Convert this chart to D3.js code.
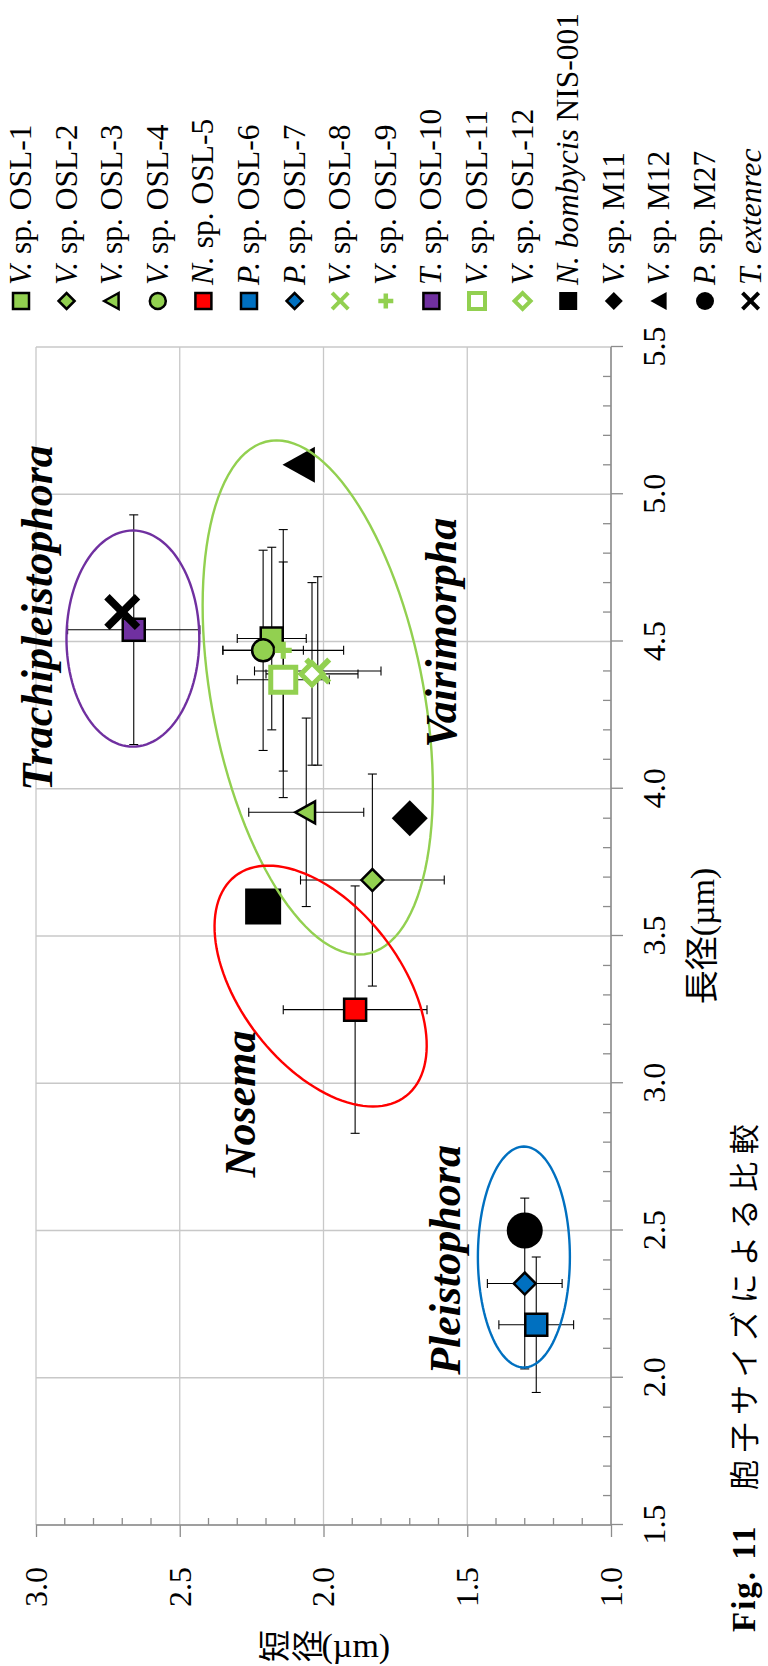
<!DOCTYPE html>
<html><head><meta charset="utf-8">
<script src="https://cdn.jsdelivr.net/npm/d3@7"></script>
<style>body{margin:0;background:#fff}svg{display:block}</style>
</head><body>
<script>
// ---------------- data ----------------
const legendItalic = ["V.","V.","V.","V.","N.","P.","P.","V.","V.","T.","V.","V.","N. bombycis","V.","V.","P.","T. extenrec"];
const legendPlain  = [" sp. OSL-1"," sp. OSL-2"," sp. OSL-3"," sp. OSL-4"," sp. OSL-5"," sp. OSL-6"," sp. OSL-7"," sp. OSL-8"," sp. OSL-9"," sp. OSL-10"," sp. OSL-11"," sp. OSL-12"," NIS-001"," sp. M11"," sp. M12"," sp. M27",""];
const longDiam  = [4.51,3.69,3.92,4.47,3.25,2.18,2.32,4.40,4.47,4.54,4.37,4.39,3.60,3.90,5.10,2.50,4.60];
const shortDiam = [2.18,1.83,2.06,2.21,1.89,1.26,1.30,2.02,2.14,2.66,2.14,2.04,2.21,1.70,2.08,1.30,2.70];
const longErr   = [0.31,0.36,0.32,0.34,0.42,0.23,0.29,0.32,0.41,0.39,0.40,0.31,null,null,null,null,null];
const shortErr  = [0.12,0.25,0.20,0.14,0.25,0.13,0.13,0.22,0.21,0.23,0.16,0.16,null,null,null,null,null];
const longTicks  = [1.5,2.0,2.5,3.0,3.5,4.0,4.5,5.0,5.5];
const shortTicks = [1.0,1.5,2.0,2.5,3.0];
const genusNames = ["Trachipleistophora","Vairimorpha","Nosema","Pleistophora"];
const genusLong  = [4.58,4.53,2.93,2.40];
const genusShort = [2.945,1.54,2.238,1.525];
// group ellipses: centre and two conjugate semi-diameters (data units)
const ellLong0  = [4.51,4.31,3.33,2.41];
const ellShort0 = [2.663,2.02,2.01,1.303];
const ellUL = [0.367,0.873,0.409,0.375];
const ellUS = [0,0.143,0.182,0];
const ellVS = [0.231,0.374,0.321,0.160];
const xTitle = "長径(µm)";
const yTitleCJK = ["短","径"];
const yTitleUnit = "(µm)";
const captionFig = "Fig. 11";
const captionText = "胞子サイズによる比較";

// ---------------- styles ----------------
const G="#92D050", R="#FF0000", B="#0070C0", P="#7030A0";
const style = [
 {shape:"square",fill:G,stroke:"#000"},{shape:"diamond",fill:G,stroke:"#000"},
 {shape:"triangle",fill:G,stroke:"#000"},{shape:"circle",fill:G,stroke:"#000"},
 {shape:"square",fill:R,stroke:"#000"},{shape:"square",fill:B,stroke:"#000"},
 {shape:"diamond",fill:B,stroke:"#000"},{shape:"x",fill:G,stroke:"none"},
 {shape:"plus",fill:G,stroke:"none"},{shape:"square",fill:P,stroke:"#000"},
 {shape:"square",fill:"#fff",stroke:G,hollow:true},{shape:"diamond",fill:"#fff",stroke:G,hollow:true},
 {shape:"square",fill:"#000",stroke:"none",ref:true},{shape:"diamond",fill:"#000",stroke:"none",ref:true},
 {shape:"triangle",fill:"#000",stroke:"none",ref:true},{shape:"circle",fill:"#000",stroke:"none",ref:true},
 {shape:"x",fill:"#000",stroke:"none",ref:true}
];
const ellColors=[P,G,R,B];

function shapePath(type,s){
  const h=s/2;
  if(type==="square") return `M${-h},${-h}H${h}V${h}H${-h}Z`;
  if(type==="diamond") return `M0,${-h}L${h},0L0,${h}L${-h},0Z`;
  if(type==="triangle") return `M0,${-h}L${h},${h*0.8}L${-h},${h*0.8}Z`;
  if(type==="circle") return `M${h},0A${h},${h} 0 1,1 ${-h},0A${h},${h} 0 1,1 ${h},0Z`;
  const t=s*0.15;
  if(type==="plus") return `M${-t},${-h}H${t}V${-t}H${h}V${t}H${t}V${h}H${-t}V${t}H${-h}V${-t}H${-t}Z`;
  const a=h, k=t;
  const pts=[[-a,-a+k],[-a+k,-a],[0,-k],[a-k,-a],[a,-a+k],[k,0],[a,a-k],[a-k,a],[0,k],[-a+k,a],[-a,a-k],[-k,0]];
  return "M"+pts.map(p=>p.join(",")).join("L")+"Z";
}

// ---------------- chart ----------------
const W=768,H=1666;
const svg=d3.select("body").append("svg").attr("width",W).attr("height",H)
  .style("font-family","'Liberation Serif','Times New Roman',serif");
const g=svg.append("g").attr("transform",`translate(0,${H}) rotate(-90)`);

const x=d3.scaleLinear().domain([1.5,5.5]).range([141,1319]);
const y=d3.scaleLinear().domain([1.0,3.0]).range([611,36]);

const gridC="#C8C8C8", axisC="#8C8C8C";
g.append("g").selectAll("line").data(longTicks).join("line")
  .attr("x1",d=>x(d)).attr("x2",d=>x(d)).attr("y1",y(1)).attr("y2",y(3))
  .attr("stroke",gridC).attr("stroke-width",1.3);
g.append("g").selectAll("line").data(shortTicks).join("line")
  .attr("x1",x(1.5)).attr("x2",x(5.5)).attr("y1",d=>y(d)).attr("y2",d=>y(d))
  .attr("stroke",gridC).attr("stroke-width",1.3);

// x axis (long diameter)
const xAx=g.append("g").attr("transform",`translate(0,${y(1)})`)
  .call(d3.axisBottom(x).tickValues(longTicks).tickSize(12).tickPadding(19).tickFormat(d3.format(".1f")));
xAx.select(".domain").remove();
xAx.selectAll(".tick line").attr("stroke",axisC).attr("stroke-width",1.3);
xAx.selectAll("text").attr("font-size",32).attr("font-family","'Liberation Serif',serif").attr("fill","#000");
const minorL=d3.range(15,56).map(d=>d/10).filter(d=>Math.round(d*10)%5!==0);
g.append("g").selectAll("line").data(minorL).join("line")
  .attr("x1",d=>x(d)).attr("x2",d=>x(d)).attr("y1",y(1)-8).attr("y2",y(1))
  .attr("stroke",axisC).attr("stroke-width",1.3);
g.append("line").attr("x1",x(1.5)).attr("x2",x(5.5)).attr("y1",y(1)).attr("y2",y(1))
  .attr("stroke",axisC).attr("stroke-width",1.5);

// y axis (short diameter)
const yAx=g.append("g").attr("transform",`translate(${x(1.5)},0)`)
  .call(d3.axisLeft(y).tickValues(shortTicks).tickSize(12).tickPadding(30).tickFormat(d3.format(".1f")));
yAx.select(".domain").remove();
yAx.selectAll(".tick line").attr("stroke",axisC).attr("stroke-width",1.3);
yAx.selectAll("text").attr("font-size",32).attr("font-family","'Liberation Serif',serif").attr("fill","#000");
const minorS=d3.range(10,31).map(d=>d/10).filter(d=>Math.round(d*10)%5!==0);
g.append("g").selectAll("line").data(minorS).join("line")
  .attr("x1",x(1.5)).attr("x2",x(1.5)+7).attr("y1",d=>y(d)).attr("y2",d=>y(d))
  .attr("stroke",axisC).attr("stroke-width",1.3);
g.append("line").attr("x1",x(1.5)).attr("x2",x(1.5)).attr("y1",y(1)).attr("y2",y(3))
  .attr("stroke",axisC).attr("stroke-width",1.5);

// error bars
const idx=d3.range(longDiam.length);
const eb=g.append("g").attr("stroke","#000").attr("stroke-width",1.1);
const cap=4.5;
idx.filter(i=>longErr[i]!=null).forEach(i=>{
  const cx=x(longDiam[i]), cy=y(shortDiam[i]);
  const x0=x(longDiam[i]-longErr[i]), x1=x(longDiam[i]+longErr[i]);
  const y0=y(shortDiam[i]-shortErr[i]), y1=y(shortDiam[i]+shortErr[i]);
  eb.append("line").attr("x1",x0).attr("x2",x1).attr("y1",cy).attr("y2",cy);
  eb.append("line").attr("x1",x0).attr("x2",x0).attr("y1",cy-cap).attr("y2",cy+cap);
  eb.append("line").attr("x1",x1).attr("x2",x1).attr("y1",cy-cap).attr("y2",cy+cap);
  eb.append("line").attr("x1",cx).attr("x2",cx).attr("y1",y0).attr("y2",y1);
  eb.append("line").attr("x1",cx-cap).attr("x2",cx+cap).attr("y1",y0).attr("y2",y0);
  eb.append("line").attr("x1",cx-cap).attr("x2",cx+cap).attr("y1",y1).attr("y2",y1);
});

function plotSize(st){
  if(st.ref) return 36;
  if(st.hollow) return st.shape==="square"?25:22;
  if(st.shape==="x") return 27;
  if(st.shape==="plus") return 17;
  return 22;
}
function legSize(st){
  if(st.hollow) return 16;
  if(st.shape==="x") return 19;
  if(st.shape==="plus") return 15;
  if(st.ref) return 18;
  return 16;
}
function strokeW(st,leg){
  if(st.hollow) return leg?4:5;
  if(st.stroke==="none") return 0;
  return 2.5;
}

// markers
g.append("g").selectAll("path").data(idx).join("path")
  .attr("transform",i=>`translate(${x(longDiam[i])},${y(shortDiam[i])})`)
  .attr("d",i=>shapePath(style[i].shape,plotSize(style[i])))
  .attr("fill",i=>style[i].fill).attr("stroke",i=>style[i].stroke)
  .attr("stroke-width",i=>strokeW(style[i],false));

// ellipses
const ellLine=d3.line().curve(d3.curveLinearClosed);
const ts=d3.range(0,360,3).map(d=>d*Math.PI/180);
g.append("g").selectAll("path").data(d3.range(ellLong0.length)).join("path")
  .attr("d",k=>ellLine(ts.map(t=>[
     x(ellLong0[k]+ellUL[k]*Math.cos(t)),
     y(ellShort0[k]+ellUS[k]*Math.cos(t)+ellVS[k]*Math.sin(t))])))
  .attr("fill","none").attr("stroke",k=>ellColors[k]).attr("stroke-width",2.4);

// genus labels
g.append("g").selectAll("text").data(d3.range(genusNames.length)).join("text")
  .attr("x",k=>x(genusLong[k])).attr("y",k=>y(genusShort[k]))
  .attr("text-anchor","middle").attr("font-size",44).attr("font-weight","bold")
  .attr("font-style","italic").text(k=>genusNames[k]);

// legend
const leg=g.append("g");
idx.forEach(i=>{
  const v=21+i*45.6;
  const st=style[i];
  leg.append("path").attr("transform",`translate(1365,${v})`)
    .attr("d",shapePath(st.shape,legSize(st)))
    .attr("fill",st.fill).attr("stroke",st.stroke).attr("stroke-width",strokeW(st,true));
  const t=leg.append("text").attr("x",1381).attr("y",v+10).attr("font-size",31.5);
  t.append("tspan").attr("font-style","italic").text(legendItalic[i]);
  if(legendPlain[i]) t.append("tspan").text(legendPlain[i]);
});

// x-axis title (long diameter)
g.append("text").attr("x",x(3.5)).attr("y",714).attr("text-anchor","middle")
  .attr("font-size",34).attr("font-family","'Liberation Serif','Noto Sans CJK JP',serif").text(xTitle);

// y-axis title (short diameter), vertical writing in the original chart
const yt=svg.append("g").attr("font-family","'Noto Sans CJK JP',sans-serif").attr("font-size",32);
const ytStart=y(2.0)-68, ytBase=1646;
yTitleCJK.forEach((c,j)=>{
  const cxp=ytStart+16+j*33;
  yt.append("text").attr("transform",`translate(${cxp},${ytBase}) rotate(-90)`)
    .attr("text-anchor","middle").attr("dominant-baseline","central").text(c);
});
yt.append("text").attr("x",ytStart+66).attr("y",ytBase+11)
  .attr("font-family","'Liberation Serif',serif").attr("font-size",34).text(yTitleUnit);

// caption
const cp=g.append("text").attr("x",34).attr("y",755);
cp.append("tspan").attr("font-weight","bold").attr("font-size",33).attr("letter-spacing",2).text(captionFig);
cp.append("tspan").attr("x",176).attr("font-family","'Noto Sans CJK JP',sans-serif")
  .attr("font-size",30).attr("letter-spacing",7.5).text(captionText);
</script>
</body></html>
